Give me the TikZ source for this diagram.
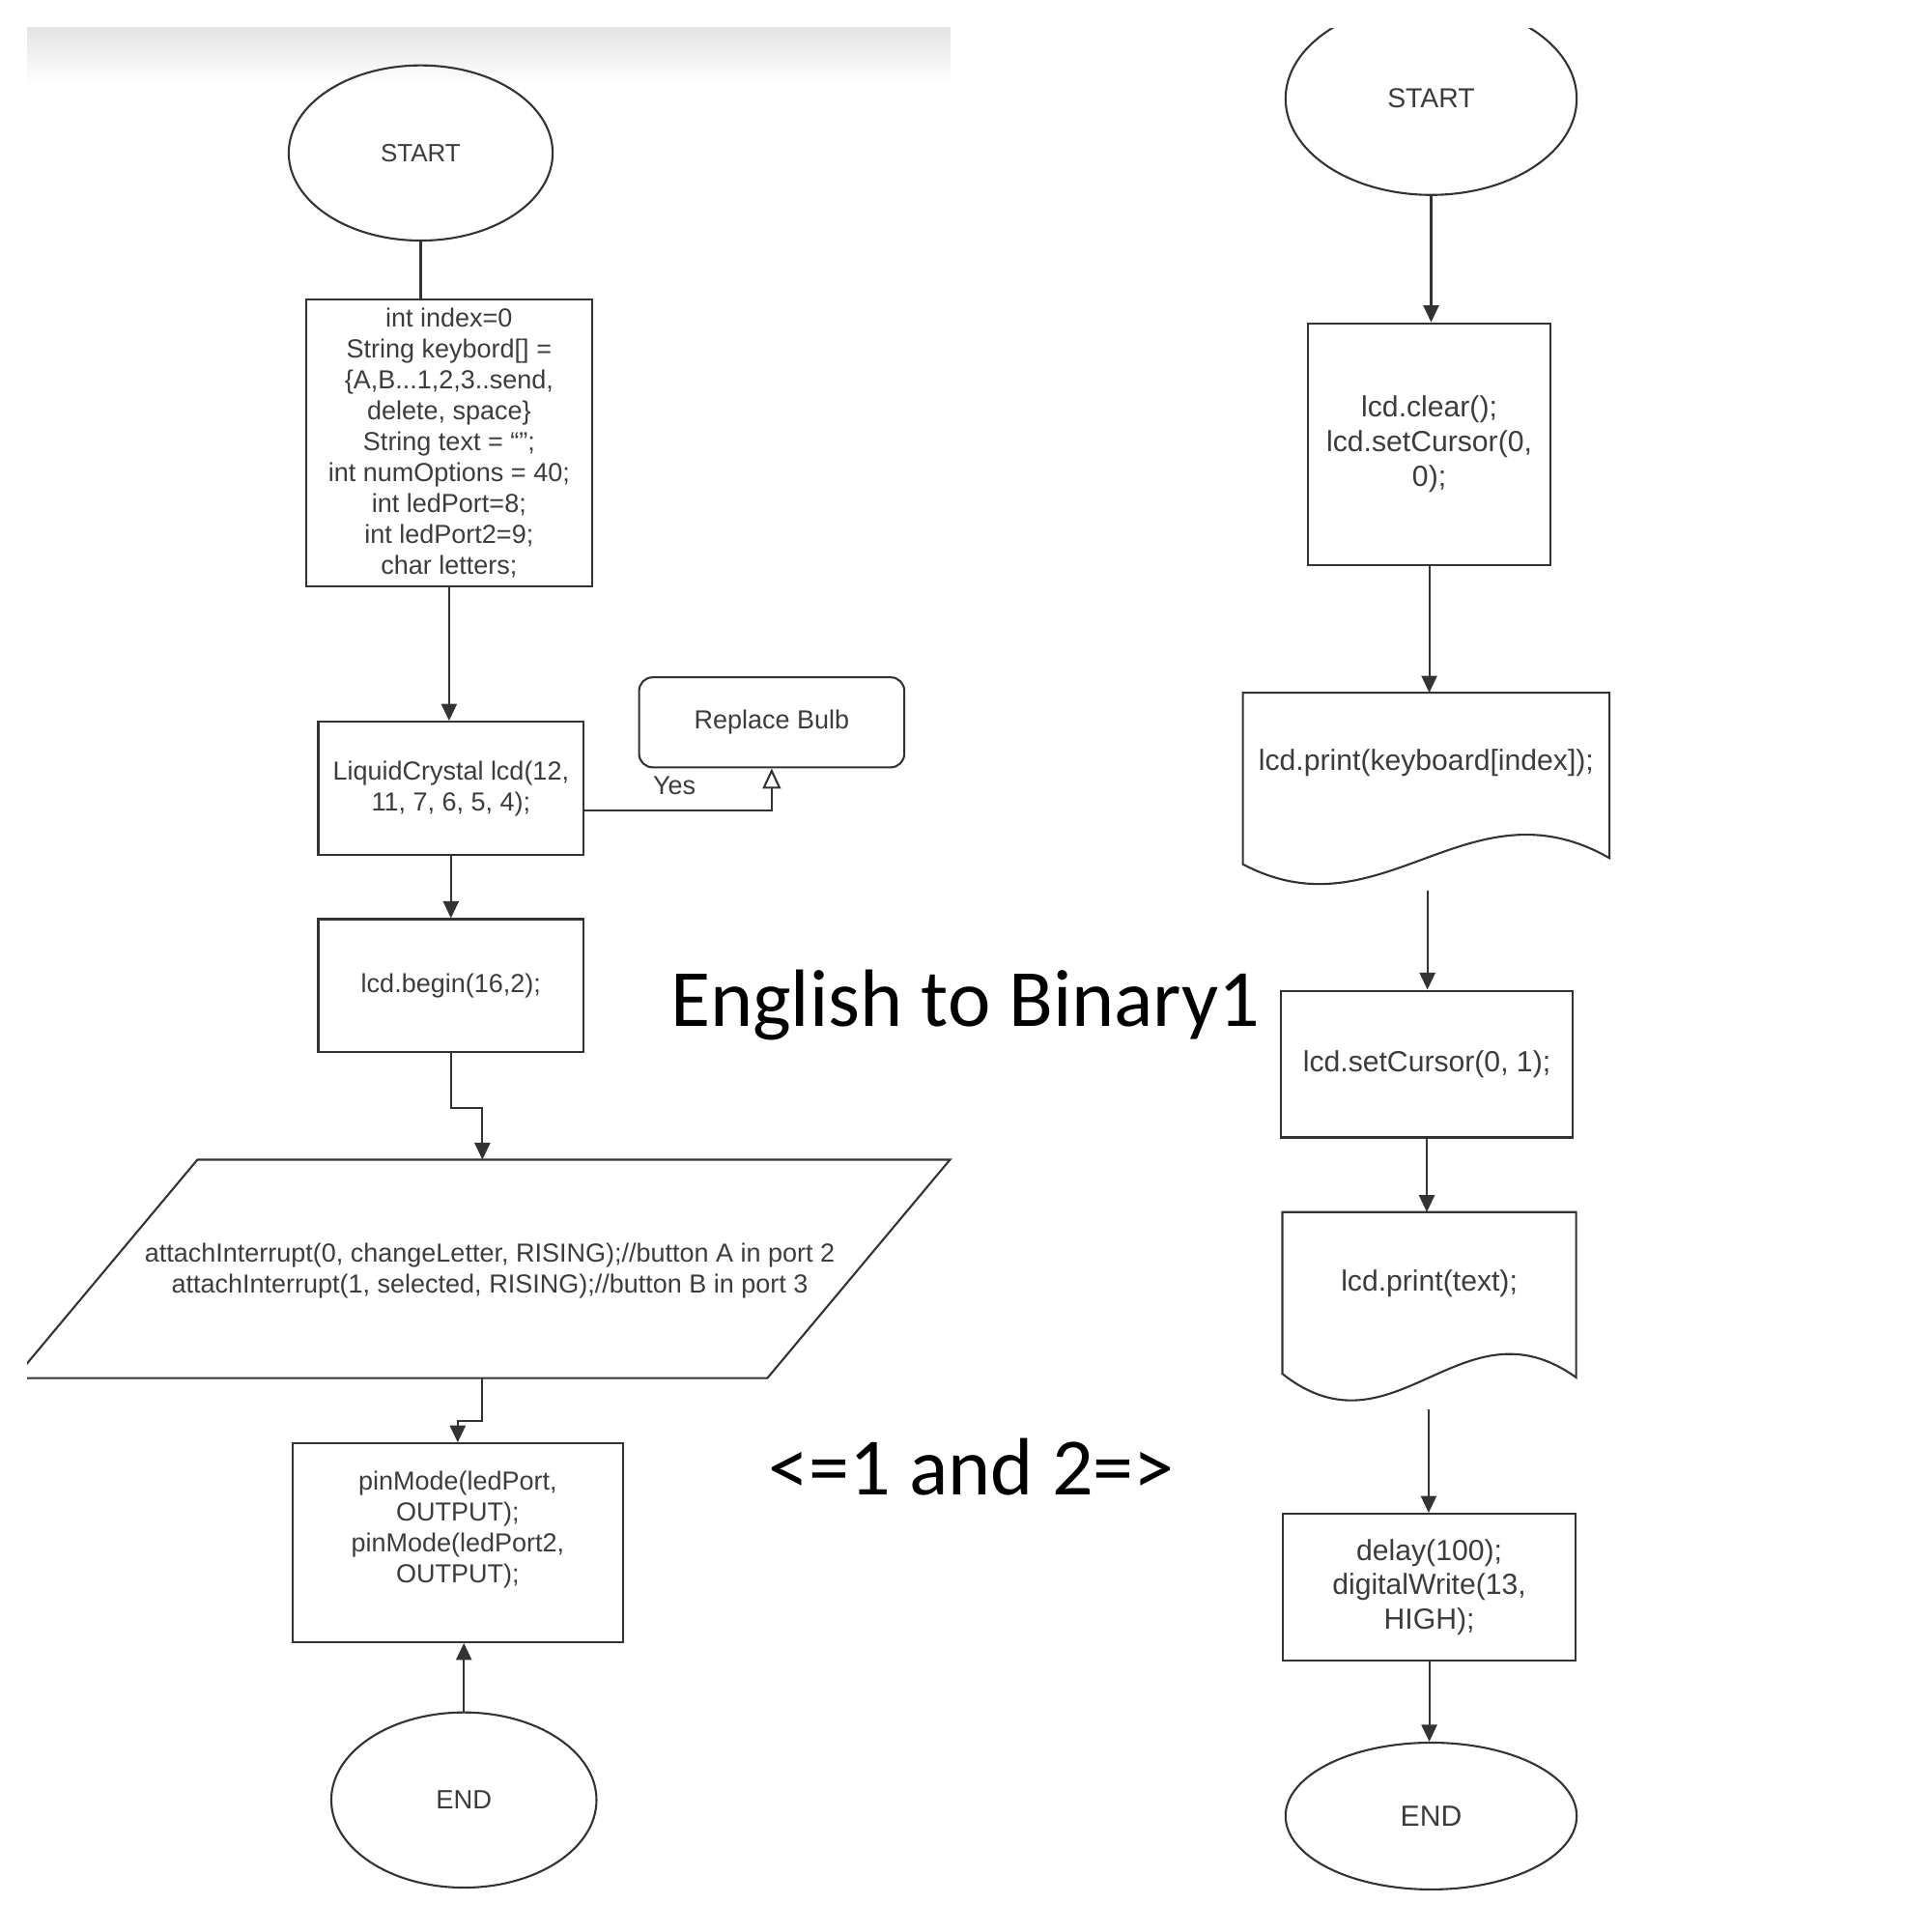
\documentclass[tikz,border=0pt]{standalone}
\usepackage{fontspec}
\setmainfont{Liberation Sans}
\newfontfamily\slidefont{Carlito}
\usetikzlibrary{shapes.geometric,arrows.meta,calc}

\definecolor{ink}{HTML}{333333}
\definecolor{txt}{HTML}{3C3C3C}

\tikzset{
  line/.style={draw=ink,line width=0.6pt},
  arr/.style={line,-{Triangle[length=5pt,width=4.6pt]}},
  openarr/.style={line,-{Triangle[open,length=6pt,width=5.4pt]}},
  lfont/.style={text=txt,font=\fontsize{7.7}{9.1}\selectfont},
  rfont/.style={text=txt,font=\fontsize{8.6}{10.2}\selectfont},
  lbox/.style={line,rectangle,inner sep=0pt,align=center,lfont},
  rbox/.style={line,rectangle,inner sep=0pt,align=center,rfont},
  term/.style={line,ellipse,inner sep=0pt,text=txt},
  big/.style={font=\slidefont\fontsize{24}{28}\selectfont,anchor=base}
}

\begin{document}
\begin{tikzpicture}[x=0.0128cm,y=-0.0128cm]
\useasboundingbox (0,0) rectangle (1566,1566);
\shade[top color=black!11,bottom color=white] (22,22) rectangle (770,68);

% left chart
\node[term,minimum width=2.739cm,minimum height=1.818cm,font=\fontsize{7.4}{9}\selectfont] (lstart) at (341,124) {START};
\node[lbox,minimum width=2.97cm,minimum height=2.97cm] (init) at (364,359) {int index=0\\String keybord[] =\\\{A,B...1,2,3..send,\\delete, space\}\\String text = “”;\\int numOptions = 40;\\int ledPort=8;\\int ledPort2=9;\\char letters;};
\node[lbox,minimum width=2.752cm,minimum height=1.382cm] (lcdinit) at (365.5,639) {LiquidCrystal lcd(12,\\11, 7, 6, 5, 4);};
\node[lbox,rounded corners=4pt,minimum width=2.752cm,minimum height=0.934cm] (bulb) at (625.5,585.5) {Replace Bulb};
\node[lbox,minimum width=2.752cm,minimum height=1.382cm] (lcdbegin) at (365.5,799) {lcd.begin(16,2);};
\begin{scope}
  \clip (22,900) rectangle (772,1130);
  \draw[line] (160,940) -- (770,940) -- (622,1117) -- (12,1117) -- cycle;
\end{scope}
\node[lfont,align=center] (attach) at (397,1030) {attachInterrupt(0, changeLetter, RISING);//button A in port 2\\attachInterrupt(1, selected, RISING);//button B in port 3};
\coordinate (attachtop) at (391,940);
\coordinate (attachbot) at (391,1117);
\node[lbox,minimum width=3.43cm,minimum height=2.061cm] (pinmode) at (371,1250.5) {};
\node[lfont,align=center] (pinmodetxt) at (371,1240) {pinMode(ledPort,\\OUTPUT);\\pinMode(ledPort2,\\OUTPUT);};
\node[term,minimum width=2.752cm,minimum height=1.818cm,font=\fontsize{7.8}{9}\selectfont] (lend) at (376,1459) {END};

\draw[line] (lstart.south) -- (lstart.south |- init.north);
\draw[arr] (init.south) -- (init.south |- lcdinit.north);
\draw[arr] (lcdinit.south) -- (lcdbegin.north);
\draw[openarr] ($(lcdinit.east)+(0,18)$) -| node[pos=0.24,above,lfont,yshift=1pt] (yes) {Yes} (bulb.south);
\draw[arr] (lcdbegin.south) -- ++(0,44) -| (attachtop);
\draw[arr] (attachbot) -- ++(0,35) -| (pinmode.north);
\draw[arr] (lend.north) -- (lend.north |- pinmode.south);

% right chart
\begin{scope}
  \clip (1000,23) rectangle (1320,200);
  \node[term,minimum width=3.021cm,minimum height=1.997cm,font=\fontsize{8.1}{10}\selectfont] (rstart) at (1160,80) {START};
\end{scope}
\node[rbox,minimum width=2.522cm,minimum height=2.509cm] (clear) at (1158.5,360) {lcd.clear();\\lcd.setCursor(0,\\0);};
\node[minimum width=3.789cm,minimum height=1.766cm,inner sep=0pt] (print1) at (1156,631) {};
\draw[line] (print1.north west) -- (print1.north east) -- ($(print1.south east)+(0,-5)$)
  .. controls (1190,630) and (1120,760) .. (print1.south west) -- cycle;
\node[rfont] (print1txt) at (1156,618) {lcd.print(keyboard[index]);};
\coordinate (print1out) at (1157,722);
\node[rbox,minimum width=3.034cm,minimum height=1.523cm] (setc) at (1156.5,862.5) {lcd.setCursor(0, 1);};
\node[minimum width=3.034cm,minimum height=1.664cm,inner sep=0pt] (print2) at (1158.5,1048) {};
\draw[line] (print2.north west) -- (print2.north east) -- ($(print2.south east)+(0,3)$)
  .. controls (1185,1050) and (1130,1185) .. (print2.south west) -- cycle;
\node[rfont] (print2txt) at (1158.5,1040) {lcd.print(text);};
\coordinate (print2out) at (1158,1142);
\node[rbox,minimum width=3.034cm,minimum height=1.523cm] (delay) at (1158.5,1286.5) {delay(100);\\digitalWrite(13,\\HIGH);};
\node[term,minimum width=3.021cm,minimum height=1.523cm,font=\fontsize{8.6}{10}\selectfont] (rend) at (1160,1472) {END};

\draw[arr] (rstart.south) -- (rstart.south |- clear.north);
\draw[arr] (clear.south) -- (clear.south |- print1.north);
\draw[arr] (print1out) -- (print1out |- setc.north);
\draw[arr] (setc.south) -- (setc.south |- print2.north);
\draw[arr] (print2out) -- (print2out |- delay.north);
\draw[arr] (delay.south) -- (delay.south |- rend.north);

% slide texts
\node[big] (title) at (782.5,832) {English to Binary1};
\node[big] (pages) at (787.5,1212) {<=1 and 2=>};
\end{tikzpicture}
\end{document}
